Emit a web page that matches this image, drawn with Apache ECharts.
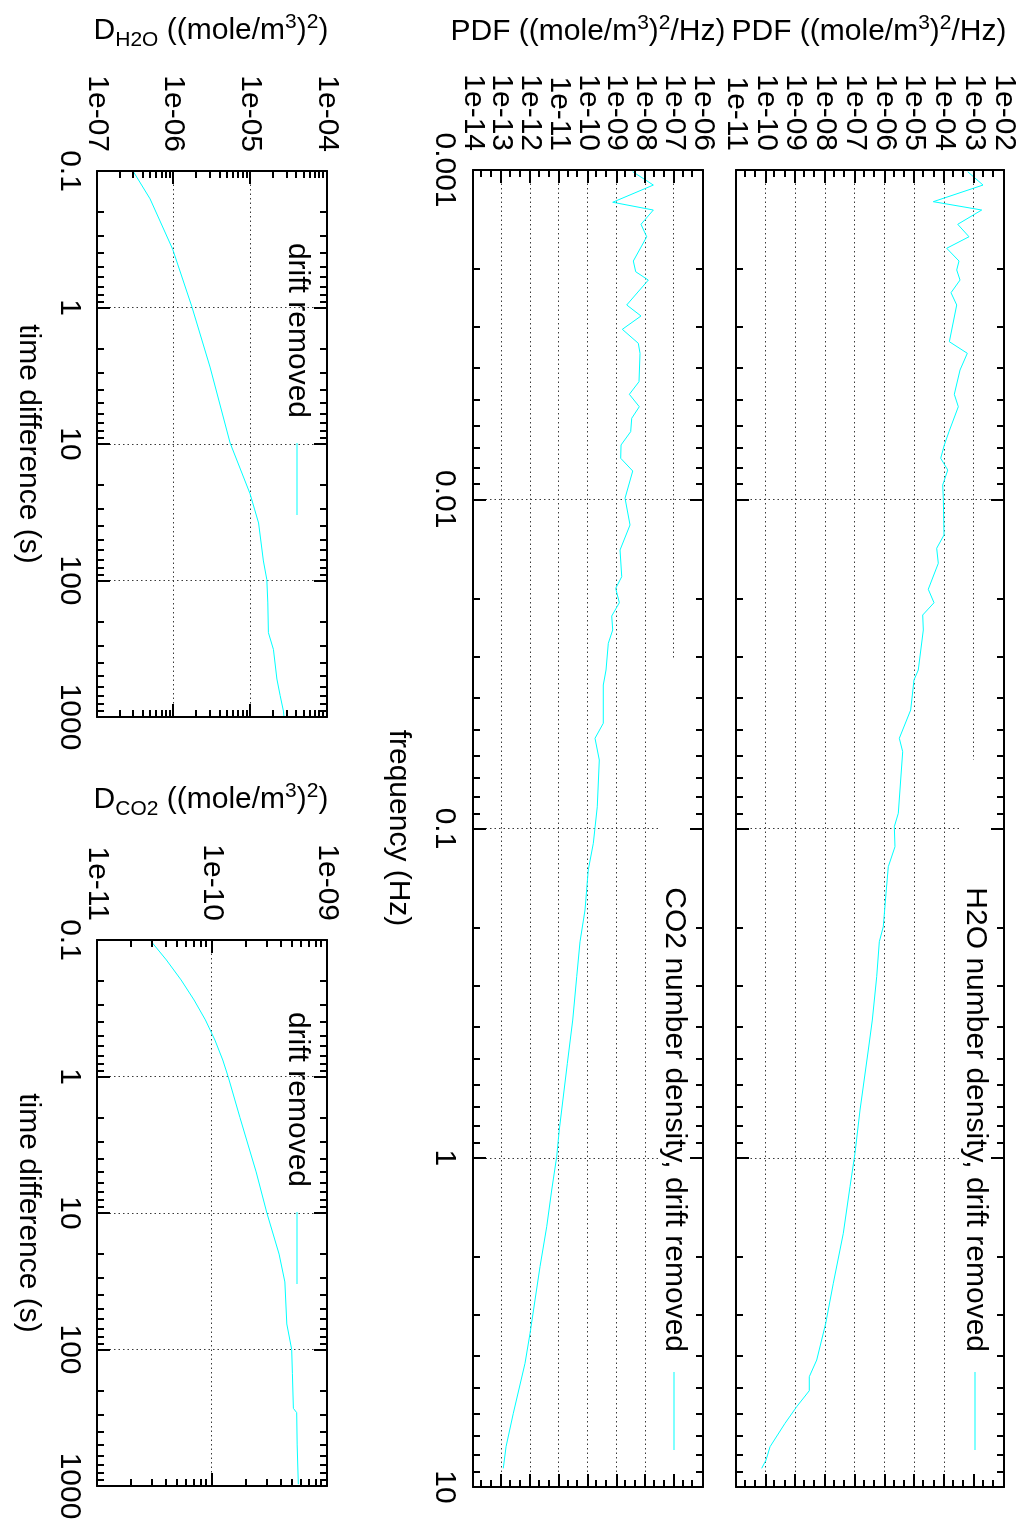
<!DOCTYPE html>
<html><head><meta charset="utf-8">
<script src="https://cdn.jsdelivr.net/npm/echarts@6/dist/echarts.min.js"></script>
<style>
html,body{margin:0;padding:0;background:#fff;overflow:hidden;width:1019px;height:1524px}
#wrap{position:absolute;left:0;top:0;width:1524px;height:1019px;transform-origin:0 0;transform:translate(1019px,0) rotate(90deg);background:#fff}
#chart{width:1524px;height:1019px}
</style></head><body>
<div id="wrap"><div id="chart"></div></div>
<script>
// ---------------- data ----------------
const h2oPdfFreq = [1.012e-3,1.111e-3,1.248e-3,1.323e-3,1.462e-3,1.595e-3,1.729e-3,1.890e-3,2.012e-3,2.159e-3,2.359e-3,2.570e-3,3.323e-3,3.603e-3,4.050e-3,4.800e-3,5.235e-3,6.232e-3,6.841e-3,7.508e-3,8.151e-3,9.05e-3,9.91e-3,1.284e-2,1.409e-2,1.565e-2,1.877e-2,2.062e-2,2.247e-2,2.495e-2,3.301e-2,3.540e-2,4.366e-2,5.321e-2,5.845e-2,8.99e-2,9.87e-2,0.1136,0.1306,0.1573,0.1987,0.2207,0.2818,0.3817,0.4707,0.7161,0.9694,1.224,1.696,2.406,3.184,4.115,4.624,5.100,5.703,6.406,7.544,8.279,8.774];
const h2oPdfVal = [6.04e-4,1.97e-3,4.22e-5,1.78e-3,2.79e-4,6.67e-4,1.19e-4,3.08e-4,2.58e-4,3.33e-4,1.66e-4,2.58e-4,1.46e-4,5.85e-4,3.33e-4,2.14e-4,2.92e-4,1.42e-4,9.9e-5,7.48e-5,1.29e-4,8.73e-5,9.14e-5,9.66e-5,5.48e-5,6.21e-5,2.86e-5,4.46e-5,1.86e-5,1.95e-5,1.32e-5,9.48e-6,7.34e-6,3.05e-6,3.96e-6,2.82e-6,2.07e-6,2.18e-6,1.30e-6,1.09e-6,8.83e-7,6.49e-7,5.31e-7,3.78e-7,2.77e-7,1.46e-7,9.9e-8,6.73e-8,4.01e-8,1.85e-8,1.03e-8,5.13e-9,2.89e-9,2.89e-9,1.09e-9,4.42e-10,1.39e-10,1.02e-10,7.29e-11];

const co2PdfFreq = [1.012e-3,1.111e-3,1.253e-3,1.323e-3,1.462e-3,1.595e-3,1.890e-3,2.037e-3,2.159e-3,2.570e-3,2.776e-3,3.047e-3,3.360e-3,3.603e-3,4.395e-3,4.800e-3,5.235e-3,5.677e-3,6.232e-3,6.841e-3,7.508e-3,8.207e-3,9.93e-3,1.197e-2,1.426e-2,1.719e-2,1.865e-2,2.062e-2,2.263e-2,2.495e-2,2.739e-2,3.301e-2,3.666e-2,4.79e-2,5.321e-2,6.194e-2,8.59e-2,0.1109,0.1337,0.1768,0.2207,0.2818,0.3817,0.5167,0.8236,0.9927,1.253,1.620,2.142,3.414,4.210,5.973,7.544,8.774];
const co2PdfVal = [3.59e-9,1.87e-8,7.23e-10,1.87e-8,6.97e-9,1.10e-8,3.77e-9,4.56e-9,1.25e-8,2.22e-9,6.97e-9,1.56e-9,5.62e-9,6.44e-9,5.94e-9,2.74e-9,6.08e-9,3.31e-9,3.05e-9,1.41e-9,1.37e-9,3.59e-9,1.94e-9,2.89e-9,1.30e-9,1.49e-9,9.18e-10,1.23e-9,6.67e-10,7.23e-10,5.08e-10,4.23e-10,3.40e-10,3.40e-10,1.75e-10,2.47e-10,2.10e-10,1.53e-10,1.02e-10,7.87e-11,5.27e-11,4.05e-11,2.94e-11,1.91e-11,1.0e-11,8.15e-12,5.46e-12,3.66e-12,2.14e-12,9.62e-13,6.44e-13,2.52e-13,1.41e-13,1.13e-13];

const h2oDTime = [0.101,0.16,0.374,0.98,2.73,9.84,23.1,37.9,71.9,98.4,146,241,320,527,698,904,990];
const h2oDVal = [2.98e-7,4.92e-7,9.7e-7,1.72e-6,2.98e-6,5.45e-6,9.9e-6,1.28e-5,1.48e-5,1.64e-5,1.69e-5,1.72e-5,2.0e-5,2.22e-5,2.45e-5,2.70e-5,2.74e-5];

const co2DTime = [0.1,0.14,0.196,0.275,0.385,0.541,0.757,1,2,5,10,20,32,65,100,150,270,290,500,970];
const co2DVal = [2.89e-11,4.01e-11,5.38e-11,6.98e-11,8.76e-11,1.06e-10,1.24e-10,1.38e-10,1.75e-10,2.42e-10,3.0e-10,3.83e-10,4.3e-10,4.47e-10,4.93e-10,5.0e-10,5.1e-10,5.45e-10,5.5e-10,5.63e-10];

// tick values and labels
const freqTicks = [0.001,0.01,0.1,1,10];
const freqTickLabels = ['0.001','0.01','0.1','1','10'];
const timeTicks = [0.1,1,10,100,1000];
const timeTickLabels = ['0.1','1','10','100','1000'];
const h2oPdfTicks = [1e-11,1e-10,1e-9,1e-8,1e-7,1e-6,1e-5,1e-4,1e-3,1e-2];
const h2oPdfTickLabels = ['1e-11','1e-10','1e-09','1e-08','1e-07','1e-06','1e-05','1e-04','1e-03','1e-02'];
const co2PdfTicks = [1e-14,1e-13,1e-12,1e-11,1e-10,1e-9,1e-8,1e-7,1e-6];
const co2PdfTickLabels = ['1e-14','1e-13','1e-12','1e-11','1e-10','1e-09','1e-08','1e-07','1e-06'];
const h2oDTicks = [1e-7,1e-6,1e-5,1e-4];
const h2oDTickLabels = ['1e-07','1e-06','1e-05','1e-04'];
const co2DTicks = [1e-11,1e-10,1e-9];
const co2DTickLabels = ['1e-11','1e-10','1e-09'];

// ---------------- styling ----------------
const FONT = '"Liberation Sans", Arial, Helvetica, sans-serif';
const FS = 30;
const CYAN = '#00ffff';
const GRIDC = '#3a3a3a';

function minorTicks(majors, mantissas) {
  const out = [];
  majors.slice(0, -1).forEach(d => mantissas.forEach(m => out.push(+(m * d).toPrecision(4))));
  return out;
}
const full = [2,3,4,5,6,7,8,9];
const sparse = [2,4.4];

const grids = [
  {left:170, top:15, width:1317, height:268},
  {left:170, top:316, width:1317, height:230},
  {left:171, top:692, width:546, height:230},
  {left:940, top:692, width:546, height:230}
];
const xSpecs = [
  {min:1e-3, max:10, major:freqTicks, labels:freqTickLabels, minor:minorTicks(freqTicks, full), show:false, margin:14},
  {min:1e-3, max:10, major:freqTicks, labels:freqTickLabels, minor:minorTicks(freqTicks, full), show:true, margin:14},
  {min:0.1, max:1000, major:timeTicks, labels:timeTickLabels, minor:minorTicks(timeTicks, full), show:true, margin:13},
  {min:0.1, max:1000, major:timeTicks, labels:timeTickLabels, minor:minorTicks(timeTicks, full), show:true, margin:13}
];
const ySpecs = [
  {min:1e-11, max:1e-2, major:h2oPdfTicks, labels:h2oPdfTickLabels, minor:minorTicks(h2oPdfTicks, sparse), show:true, margin:19},
  {min:1e-14, max:1e-6, major:co2PdfTicks, labels:co2PdfTickLabels, minor:minorTicks(co2PdfTicks, sparse), show:true, margin:19},
  {min:1e-7, max:1e-4, major:h2oDTicks, labels:h2oDTickLabels, minor:minorTicks(h2oDTicks, full), show:true, margin:19},
  {min:1e-11, max:1e-9, major:co2DTicks, labels:co2DTickLabels, minor:minorTicks(co2DTicks, full), show:true, margin:19}
];

function labelOf(v, ticks, labels) {
  let best = 0, bd = Infinity;
  ticks.forEach((t, k) => { const d = Math.abs(Math.log10(t) - Math.log10(v)); if (d < bd) { bd = d; best = k; } });
  return labels[best];
}
// axis carrying tick labels (a subset) and, optionally, the dotted grid
function labelAxis(gi, pos, s, labelVals, withGrid) {
  return {
    type:'log', logBase:10, gridIndex:gi, position:pos, min:s.min, max:s.max, z:0,
    axisLine:{show:false, onZero:false},
    axisTick:{show:false, customValues:s.major},
    axisLabel:{show:s.show, customValues:labelVals, margin:s.margin, color:'#000', fontSize:FS, fontFamily:FONT,
      interval:0, showMinLabel:true, showMaxLabel:true, hideOverlap:false,
      formatter: v => labelOf(v, s.major, s.labels)},
    splitLine:{show:withGrid, customValues:s.major, lineStyle:{color:GRIDC, width:1, type:[1.5,3]}},
    minorTick:{show:false}, minorSplitLine:{show:false}
  };
}
function tickAxis(gi, pos, s, vals, len, line) {
  return {
    type:'log', logBase:10, gridIndex:gi, position:pos, min:s.min, max:s.max, z:3,
    axisLine:{show:line, onZero:false, lineStyle:{color:'#000', width:2}},
    axisTick:{show:true, inside:true, length:len, customValues:vals, lineStyle:{color:'#000', width:2}},
    axisLabel:{show:false}, splitLine:{show:false},
    minorTick:{show:false}, minorSplitLine:{show:false}
  };
}

const NX = 5, NY = 6;
const xAxes = [], yAxes = [];
grids.forEach((g, i) => {
  const xs = xSpecs[i], ys = ySpecs[i];
  xAxes.push(labelAxis(i, 'bottom', xs, xs.major, true));
  xAxes.push(tickAxis(i, 'bottom', xs, xs.major, 13, true));
  xAxes.push(tickAxis(i, 'bottom', xs, xs.minor, 7, false));
  xAxes.push(tickAxis(i, 'top', xs, xs.major, 13, true));
  xAxes.push(tickAxis(i, 'top', xs, xs.minor, 7, false));
  const even = ys.major.filter((v, k) => k % 2 === 0);
  const odd = ys.major.filter((v, k) => k % 2 === 1);
  yAxes.push(labelAxis(i, 'left', ys, even, true));
  yAxes.push(labelAxis(i, 'left', ys, odd, false));
  yAxes.push(tickAxis(i, 'left', ys, ys.major, 13, true));
  yAxes.push(tickAxis(i, 'left', ys, ys.minor, 7, false));
  yAxes.push(tickAxis(i, 'right', ys, ys.major, 13, true));
  yAxes.push(tickAxis(i, 'right', ys, ys.minor, 7, false));
});

function zip(a, b) { return a.map((v, k) => [v, b[k]]); }
const seriesData = [zip(h2oPdfFreq, h2oPdfVal), zip(co2PdfFreq, co2PdfVal), zip(h2oDTime, h2oDVal), zip(co2DTime, co2DVal)];
const series = seriesData.map((d, i) => ({
  type:'line', xAxisIndex:i*NX, yAxisIndex:i*NY, data:d, symbol:'none', showSymbol:false,
  lineStyle:{color:CYAN, width:1}, z:2, clip:true, animation:false, silent:true
}));

const rich = {
  a:{fontSize:FS, fontFamily:FONT, lineHeight:39, fill:'#000', verticalAlign:'middle'},
  s:{fontSize:21, fontFamily:FONT, lineHeight:22, fill:'#000', verticalAlign:'top'},
  b:{fontSize:21, fontFamily:FONT, lineHeight:22, fill:'#000', verticalAlign:'bottom'}
};
function rtext(x, y, text) {
  return {type:'text', x, y, rotation:Math.PI/2, z:10,
    style:{text, rich, align:'center', verticalAlign:'middle', textAlign:'center', textVerticalAlign:'middle', fill:'#000'}};
}
function ptext(x, y, text, align) {
  return {type:'text', x, y, z:10,
    style:{text, align, verticalAlign:'middle', textAlign:align, textVerticalAlign:'middle', fill:'#000', fontSize:FS, fontFamily:FONT}};
}
function sample(x1, x2, y) {
  return {type:'line', z:10, shape:{x1, y1:y, x2, y2:y}, style:{stroke:CYAN, lineWidth:1}};
}
function box(x, y, w, h) {
  return {type:'rect', z:1, shape:{x, y, width:w, height:h}, style:{fill:'#fff'}};
}

const graphics = [
  box(760, 17, 727, 42),
  box(660, 318, 827, 42),
  rtext(32, 150, '{a|PDF ((mole/m}{s|3}{a|)}{s|2}{a|/Hz)}'),
  rtext(32, 431, '{a|PDF ((mole/m}{s|3}{a|)}{s|2}{a|/Hz)}'),
  rtext(31, 808, '{a|D}{b|H2O}{a| ((mole/m}{s|3}{a|)}{s|2}{a|)}'),
  rtext(800, 808, '{a|D}{b|CO2}{a| ((mole/m}{s|3}{a|)}{s|2}{a|)}'),
  ptext(828, 621, 'frequency (Hz)', 'center'),
  ptext(444, 991, 'time difference (s)', 'center'),
  ptext(1213, 991, 'time difference (s)', 'center'),
  ptext(1352, 44, 'H2O number density, drift removed', 'right'),
  sample(1372, 1450, 44),
  ptext(1352, 345, 'CO2 number density, drift removed', 'right'),
  sample(1372, 1450, 345),
  ptext(418, 722, 'drift removed', 'right'),
  sample(443, 515, 722),
  ptext(1187, 722, 'drift removed', 'right'),
  sample(1212, 1284, 722)
];

const chart = echarts.init(document.getElementById('chart'), null, {width:1524, height:1019, renderer:'canvas'});
chart.setOption({
  animation:false,
  backgroundColor:'#fff',
  grid: grids.map(g => Object.assign({outerBoundsMode:'none', containLabel:false}, g)),
  xAxis: xAxes,
  yAxis: yAxes,
  series,
  graphic: {elements: graphics}
});
</script></body></html>
